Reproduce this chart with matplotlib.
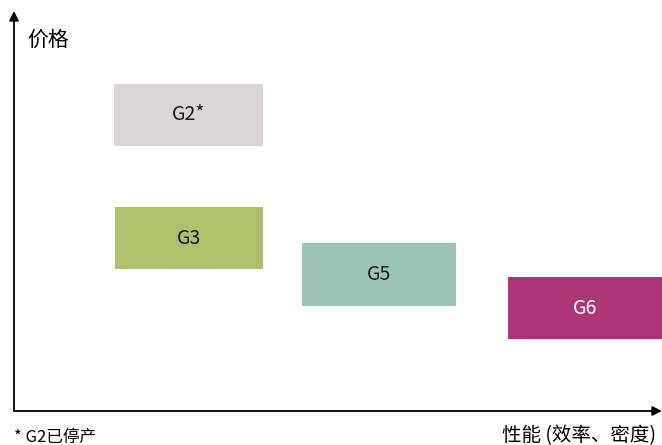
import matplotlib
matplotlib.use("Agg")
import matplotlib.pyplot as plt
from matplotlib.patches import Rectangle

plt.rcParams['font.family'] = ['Noto Sans CJK SC', 'DejaVu Sans']

# product boxes: left edge on performance axis, bottom on price axis
names = ["G2*", "G3", "G5", "G6"]
perf_left = [100, 101, 288, 494]
perf_width = [149, 148, 154, 154]
price_bottom = [265, 142, 105, 72]
price_height = [62, 62, 63, 62]
colors = ["#dbd5d5", "#adc06a", "#9dc4b8", "#ab3777"]
text_colors = ["#1a1a1a", "#1a1a1a", "#1a1a1a", "#ffffff"]

fig = plt.figure(figsize=(6.62, 4.45), dpi=100)
ax = fig.add_axes([0, 0, 1, 1])
ax.set_xlim(-14, 648)
ax.set_ylim(-34, 411)
ax.axis("off")

for n, x, w, y, h, c, tc in zip(names, perf_left, perf_width, price_bottom, price_height, colors, text_colors):
    ax.add_patch(Rectangle((x, y), w, h, facecolor=c, edgecolor="none"))
    ax.text(x + w / 2, y + h / 2, n, ha="center", va="center", fontsize=14, color=tc)

# axes with arrows
arrow = dict(arrowstyle="-|>", color="black", lw=1.3, mutation_scale=14, shrinkA=0, shrinkB=0)
ax.annotate("", xy=(0, 400), xytext=(0, 0), arrowprops=arrow)
ax.annotate("", xy=(648, 0), xytext=(0, 0), arrowprops=arrow)

ax.text(13, 371, "价格", ha="left", va="center", fontsize=15)
ax.text(488, -25, "性能 (效率、密度)", ha="left", va="center", fontsize=14)
ax.text(0, -26, "* G2已停产", ha="left", va="center", fontsize=12)

fig.savefig("out.png", dpi=100)
